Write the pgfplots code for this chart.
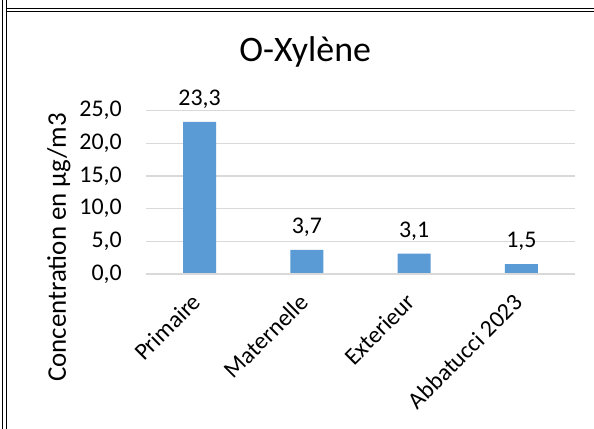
\documentclass[border=0pt]{standalone}
\usepackage{pgfplots}
\pgfplotsset{compat=1.18}
\usepackage{fontspec}
\setmainfont{Carlito}
\definecolor{barblue}{HTML}{5B9BD5}
\definecolor{gridgray}{HTML}{D9D9D9}
\begin{document}
\begin{tikzpicture}
\useasboundingbox (0,0) rectangle (594bp,429bp);
\fill[white] (0,0) rectangle (594bp,429bp);
\draw[line width=1.3bp] (2.5bp,0) -- (2.5bp,429bp);
\draw[line width=1.3bp] (6.5bp,0) -- (6.5bp,429bp);
\draw[line width=1.3bp] (6.5bp,420.3bp) -- (594bp,420.3bp);
\draw[line width=1.3bp] (6.5bp,417.7bp) -- (594bp,417.7bp);
\begin{axis}[
  at={(146bp,155bp)}, anchor=south west,
  scale only axis, width=429bp, height=163.3bp,
  xmin=-0.5, xmax=3.5, ymin=0, ymax=25,
  ybar, bar width=33bp,
  axis line style={draw=none},
  axis x line*=bottom,
  ymajorgrids, grid style={gridgray, line width=1.3bp},
  major tick length=0pt,
  ytick={0,5,10,15,20,25},
  xtick={0,1,2,3},
  xticklabels={Primaire,Maternelle,Exterieur,Abbatucci 2023},
  ticklabel style={font=\fontsize{24}{28}\selectfont},
  yticklabel style={/pgf/number format/.cd, fixed, fixed zerofill, precision=1, use comma, assume math mode=true, /tikz/.cd, inner sep=0pt, anchor=east, xshift=-24bp},
  xticklabel style={xshift=-9bp, yshift=-18bp, rotate=45, anchor=north east, inner sep=0pt},
  nodes near coords,
  every node near coord/.append style={font=\fontsize{24}{28}\selectfont, anchor=base, yshift=16.3bp, inner sep=0pt, text=black,
     /pgf/number format/fixed, /pgf/number format/fixed zerofill, /pgf/number format/precision=1, /pgf/number format/use comma, /pgf/number format/assume math mode=true},
  title={O-Xylène},
  title style={at={(axis description cs:0.371,1.2676)}, anchor=base, inner sep=0pt, font=\fontsize{36}{43}\selectfont},
  ylabel={Concentration en µg/m3},
  ylabel style={at={(axis description cs:-0.203,0.162)}, anchor=center, inner sep=0pt, font=\fontsize{27}{32}\selectfont},
]
\addplot[fill=barblue, draw=none] coordinates {(0,23.3) (1,3.7) (2,3.1) (3,1.5)};
\draw[gridgray, line width=1.3bp] (axis cs:-0.5,0) -- (axis cs:3.5,0);
\end{axis}
\end{tikzpicture}
\end{document}
